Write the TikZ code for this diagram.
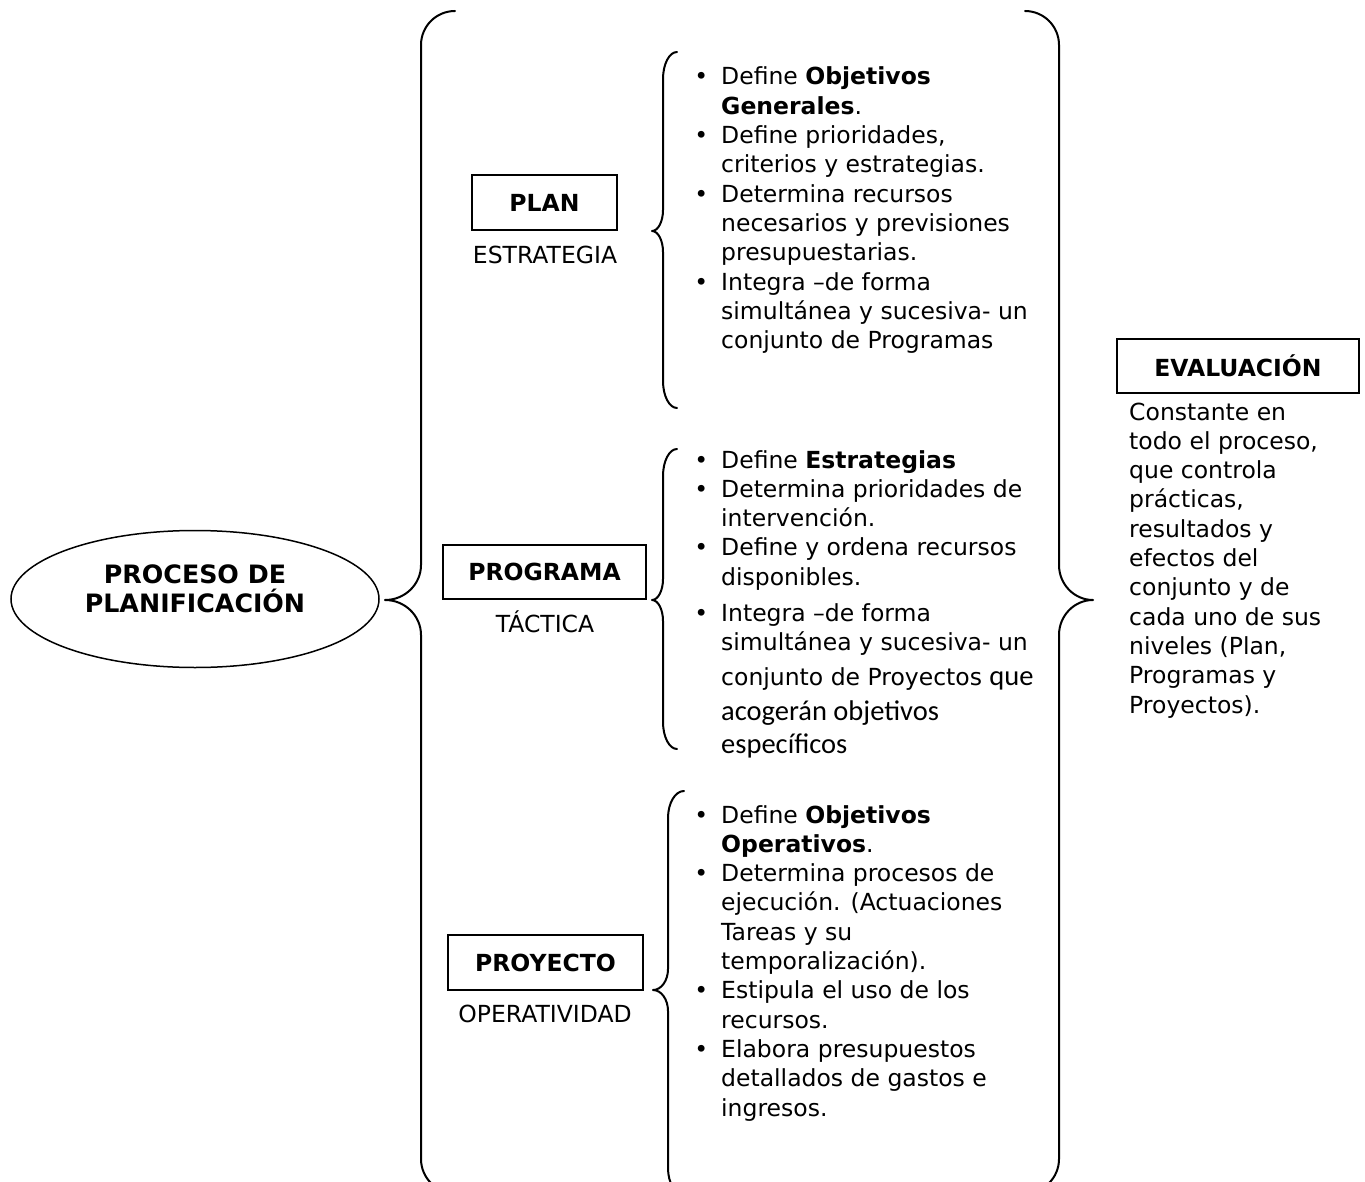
\documentclass[tikz,border=0pt]{standalone}
\usepackage{fontspec}
\setmainfont{DejaVu Sans}
\newfontfamily\calib{Carlito}
\usetikzlibrary{shapes.geometric}

% curly brace: #1 end x, #2 stem x, #3 tip x, #4 top y, #5 tip y, #6 bottom y,
% #7 end-curve height, #8 tip-curve height
\newcommand\brc[8]{%
  \draw[bracestyle] (#1,#4)
    .. controls ({#1-0.552*(#1-#2)},#4) and (#2,{#4+0.448*#7}) .. (#2,{#4+#7})
    -- (#2,{#5-#8})
    .. controls (#2,{#5-0.448*#8}) and ({#3+0.552*(#2-#3)},#5) .. (#3,#5)
    .. controls ({#3+0.552*(#2-#3)},#5) and (#2,{#5+0.448*#8}) .. (#2,{#5+#8})
    -- (#2,{#6-#7})
    .. controls (#2,{#6-0.448*#7}) and ({#1-0.552*(#1-#2)},#6) .. (#1,#6);}
\newcommand\itm{\leavevmode\llap{\textbullet\hspace{13pt}}}
\newcommand\bodyfont{\fontsize{23.5}{29.3}\selectfont}
\newcommand\calfont{\calib\fontsize{28.5}{34}\selectfont}

\begin{document}
\begin{tikzpicture}[x=1pt,y=-1pt,
  bracestyle/.style={draw=black, line width=2pt, line join=round, line cap=round},
  levelbox/.style={draw=black, line width=1.5pt, inner sep=0pt,
    font=\fontsize{23.5}{29}\selectfont\bfseries},
  levellabel/.style={anchor=base, inner sep=0pt, font=\fontsize{23.5}{29}\selectfont},
  listtext/.style={anchor=base west, inner sep=0pt}]

\useasboundingbox (0,0) rectangle (1365,1182);
\clip (0,0) rectangle (1365,1182);

% main process
\node[ellipse, draw=black, line width=1.5pt, minimum width=368pt, minimum height=137pt,
  inner sep=0pt] (proc) at (195,599) {};
\node[anchor=base, inner sep=0pt] (proctxt) at (195,583)
  {\parbox[t]{350pt}{\centering\fontsize{25.3}{29}\selectfont\bfseries PROCESO DE\\PLANIFICACIÓN}};

% outer braces
\brc{455}{421}{385}{11}{600}{1193}{34}{35}
\brc{1025}{1059}{1093}{11}{600}{1193}{34}{35}

% levels
\node[levelbox, minimum width=145pt, minimum height=55pt] (plan) at (544.5,202.5) {PLAN};
\node[levellabel] (planlbl) at (545,264) {ESTRATEGIA};
\node[levelbox, minimum width=203pt, minimum height=54pt] (prog) at (544.5,572) {PROGRAMA};
\node[levellabel] (proglbl) at (545,632) {TÁCTICA};
\node[levelbox, minimum width=195pt, minimum height=55pt] (proy) at (545.5,962.5) {PROYECTO};
\node[levellabel] (proylbl) at (545,1022) {OPERATIVIDAD};

% inner braces
\brc{677}{663}{652}{52}{231}{408}{27}{21}
\brc{677}{663}{652}{449}{600}{749}{27}{21}
\brc{684}{668}{653}{791}{990}{1195}{27}{21}

% plan items
\node[listtext] (planlist) at (721,85) {\parbox[t]{330pt}{\bodyfont
  \itm Define \textbf{Objetivos}\\
  \textbf{Generales}.\\
  \itm Define prioridades,\\
  criterios y estrategias.\\
  \itm Determina recursos\\
  necesarios y previsiones\\
  presupuestarias.\\
  \itm Integra –de forma\\
  simultánea y sucesiva- un\\
  conjunto de Programas}};

% programa items
\begin{scope}
\clip (680,430) rectangle (1060,757);
\node[listtext] (proglist) at (721,468) {\parbox[t]{330pt}{\bodyfont
  \itm Define \textbf{Estrategias}\\
  \itm Determina prioridades de\\
  intervención.\\
  \itm Define y ordena recursos\\
  disponibles.\\[7pt]
  \itm Integra –de forma\\
  simultánea y sucesiva- un\\[5pt]
  conjunto de Proyectos {\calfont que}\\[6pt]
  {\calfont acogerán objetivos}\\[4pt]
  {\calfont específicos}}};
\end{scope}

% proyecto items
\node[listtext] (proylist) at (721,823) {\parbox[t]{330pt}{\bodyfont
  \itm Define \textbf{Objetivos}\\
  \textbf{Operativos}.\\
  \itm Determina procesos de\\
  ejecución. (Actuaciones\\
  Tareas y su\\
  temporalización).\\
  \itm Estipula el uso de los\\
  recursos.\\
  \itm Elabora presupuestos\\
  detallados de gastos e\\
  ingresos.}};

% evaluation
\node[levelbox, minimum width=242pt, minimum height=54pt] (eval) at (1238,366) {EVALUACIÓN};
\node[listtext] (evaltxt) at (1129,420) {\parbox[t]{230pt}{\bodyfont
  Constante en\\
  todo el proceso,\\
  que controla\\
  prácticas,\\
  resultados y\\
  efectos del\\
  conjunto y de\\
  cada uno de sus\\
  niveles (Plan,\\
  Programas y\\
  Proyectos).}};
\end{tikzpicture}
\end{document}
